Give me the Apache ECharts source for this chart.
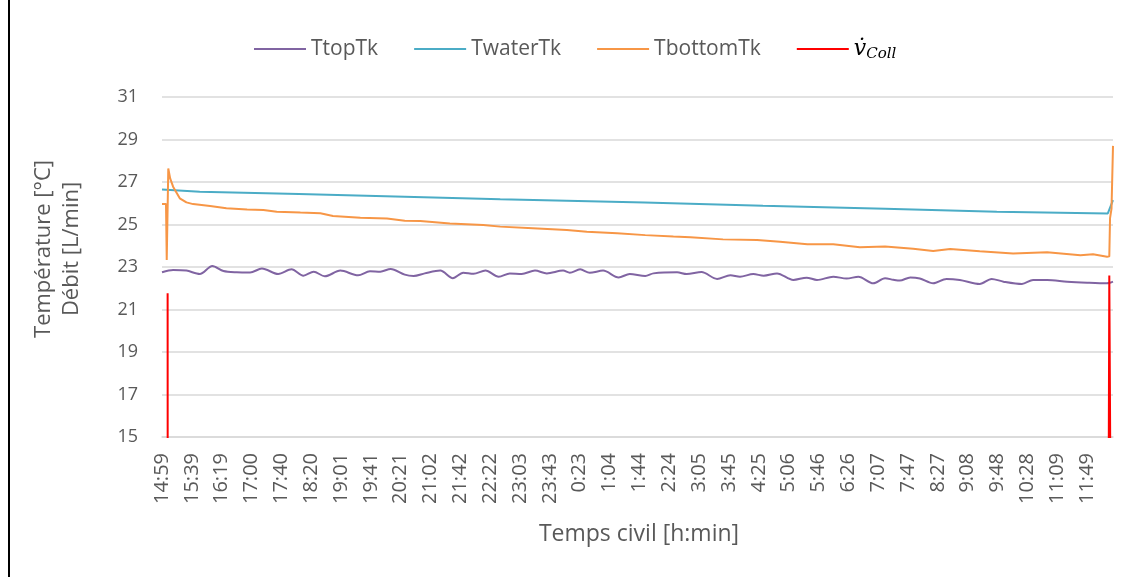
<!DOCTYPE html>
<html>
<head>
<meta charset="utf-8">
<title>Températures ballon</title>
<script src="https://cdn.jsdelivr.net/npm/echarts@6/dist/echarts.min.js"></script>
<style>
  html, body { margin: 0; padding: 0; background: #fff; }
  #echart { width: 1140px; height: 577px; }
</style>
</head>
<body>
<div id="echart"></div>
<script>
// étiquettes de l'axe des temps (une toutes les 1250/31 min depuis 14:59)
var xTicks = ['14:59', '15:39', '16:19', '17:00', '17:40', '18:20', '19:01', '19:41', '20:21', '21:02',
  '21:42', '22:22', '23:03', '23:43', '0:23', '1:04', '1:44', '2:24', '3:05', '3:45', '4:25', '5:06',
  '5:46', '6:26', '7:07', '7:47', '8:27', '9:08', '9:48', '10:28', '11:09', '11:49'];
var tickStep = 1250 / 31;   // minutes entre deux étiquettes
var xMax = 1285;            // fin de l'enregistrement (min)

// TtopTk : minutes depuis le début / valeurs
var ttopT = [0, 15, 33, 51, 68, 83, 101, 119, 135, 157, 175, 191, 205, 220, 241, 265, 281, 295, 309, 328,
  340, 355, 376, 393, 407, 421, 437, 455, 470, 486, 504, 520, 542, 551, 565, 578, 596, 617, 632, 653,
  664, 696, 709, 729, 750, 768, 781, 799, 813, 831, 853, 871, 885, 907, 925, 941, 961, 977, 988, 997,
  1011, 1024, 1042, 1060, 1078, 1105, 1121, 1137, 1162, 1177, 1196, 1223, 1250, 1277, 1281, 1285];
var ttopV = [22.75, 22.86, 22.83, 22.67, 23.05, 22.81, 22.75, 22.74, 22.93, 22.67, 22.89, 22.59, 22.78, 22.56, 22.83, 22.61, 22.80, 22.78, 22.91, 22.64,
  22.58, 22.70, 22.83, 22.47, 22.73, 22.68, 22.83, 22.54, 22.70, 22.67, 22.83, 22.70, 22.83, 22.73, 22.89, 22.73, 22.83, 22.51, 22.67, 22.58,
  22.70, 22.75, 22.67, 22.76, 22.44, 22.61, 22.54, 22.67, 22.59, 22.70, 22.39, 22.50, 22.39, 22.54, 22.46, 22.54, 22.23, 22.47, 22.40, 22.36,
  22.51, 22.46, 22.23, 22.44, 22.39, 22.20, 22.44, 22.31, 22.20, 22.39, 22.39, 22.31, 22.26, 22.23, 22.26, 22.31];

// TwaterTk
var twaterT = [0, 51, 185, 328, 457, 652, 812, 977, 1128, 1278, 1285];
var twaterV = [26.65, 26.54, 26.43, 26.31, 26.19, 26.03, 25.88, 25.74, 25.60, 25.52, 26.15];

// TbottomTk
var tbottomT = [0, 5.4, 6.4, 8.5, 11, 15, 24, 33, 42, 65, 87, 115, 137, 155, 187, 214, 231, 268, 304, 328, 349,
  389, 434, 457, 501, 547, 574, 615, 653, 691, 714, 758, 804, 835, 872, 907, 943, 977, 1015, 1042, 1065,
  1105, 1150, 1196, 1241, 1258, 1277, 1280, 1281, 1283, 1285];
var tbottomV = [25.96, 25.96, 23.33, 27.64, 27.17, 26.78, 26.23, 26.04, 25.96, 25.87, 25.76, 25.71, 25.68, 25.60, 25.56, 25.53, 25.40, 25.32, 25.28, 25.18, 25.16,
  25.05, 24.98, 24.90, 24.82, 24.74, 24.66, 24.59, 24.50, 24.43, 24.40, 24.30, 24.27, 24.19, 24.07, 24.07, 23.93, 23.96, 23.86, 23.75, 23.85,
  23.74, 23.64, 23.69, 23.55, 23.60, 23.48, 23.50, 25.30, 25.75, 28.70];

// débit capteurs (0 hors des deux pics)
var collT = [7.6, 7.8, 1278, 1280, 1283.5];
var collV = [21.76, 0, 0, 22.6, 0];

function pairs(t, v) {
  return t.map(function (x, i) { return [x, v[i]]; });
}

var textColor = '#595959';
var font = 'Open Sans';

var myChart = echarts.init(document.getElementById('echart'));

var option = {
  animation: false,
  backgroundColor: '#fff',
  legend: {
    left: 254,
    top: 38,
    padding: 0,
    icon: 'rect',
    itemWidth: 52,
    itemHeight: 2,
    itemGap: 36,
    data: ['TtopTk', 'TwaterTk', 'TbottomTk', 'vColl'],
    formatter: function (name) {
      return name === 'vColl' ? '{v|v\u0307}{s|Coll}' : name;
    },
    textStyle: {
      fontFamily: font,
      fontSize: 21,
      color: textColor,
      rich: {
        v: { fontFamily: 'DejaVu Serif', fontStyle: 'italic', fontSize: 22, color: '#000', lineHeight: 30, verticalAlign: 'middle' },
        s: { fontFamily: 'DejaVu Serif', fontStyle: 'italic', fontSize: 15, color: '#000', lineHeight: 30, verticalAlign: 'bottom', padding: [0, 0, 2, 0] }
      }
    }
  },
  grid: {
    left: 162,
    right: 27,
    top: 97,
    bottom: 140
  },
  xAxis: {
    type: 'value',
    min: 0,
    max: xMax,
    interval: tickStep,
    axisLine: { show: true, lineStyle: { color: '#d9d9d9', width: 1.5 } },
    axisTick: { show: false },
    splitLine: { show: false },
    axisLabel: {
      rotate: 90,
      margin: 16,
      fontFamily: font,
      fontSize: 20,
      color: textColor,
      showMaxLabel: false,
      formatter: function (v) {
        var i = Math.round(v / tickStep);
        return Math.abs(v / tickStep - i) < 0.01 && xTicks[i] ? xTicks[i] : '';
      }
    }
  },
  yAxis: {
    type: 'value',
    min: 15,
    max: 31,
    interval: 2,
    axisLine: { show: false },
    axisTick: { show: false },
    splitLine: { lineStyle: { color: '#d9d9d9', width: 1.5 } },
    axisLabel: {
      margin: 24,
      fontFamily: font,
      fontSize: 18,
      color: textColor
    }
  },
  graphic: [
    {
      type: 'text',
      x: 58,
      y: 249,
      rotation: Math.PI / 2,
      style: {
        text: 'Température [°C]\nDébit [L/min]',
        font: '22px "Open Sans"',
        fill: textColor,
        align: 'center',
        verticalAlign: 'middle',
        lineHeight: 28
      }
    },
    {
      type: 'text',
      x: 639,
      y: 534,
      style: {
        text: 'Temps civil [h:min]',
        font: '23px "Open Sans"',
        fill: textColor,
        align: 'center',
        verticalAlign: 'middle'
      }
    },
    {
      type: 'line',
      shape: { x1: 9, y1: 0, x2: 9, y2: 577 },
      style: { stroke: '#000', lineWidth: 2 }
    }
  ],
  series: [
    {
      name: 'TtopTk',
      type: 'line',
      data: pairs(ttopT, ttopV),
      showSymbol: false,
      smooth: 0.3,
      itemStyle: { color: '#8064a2' },
      lineStyle: { color: '#8064a2', width: 2 }
    },
    {
      name: 'TwaterTk',
      type: 'line',
      data: pairs(twaterT, twaterV),
      showSymbol: false,
      itemStyle: { color: '#4bacc6' },
      lineStyle: { color: '#4bacc6', width: 2 }
    },
    {
      name: 'TbottomTk',
      type: 'line',
      data: pairs(tbottomT, tbottomV),
      showSymbol: false,
      itemStyle: { color: '#f79646' },
      lineStyle: { color: '#f79646', width: 2 }
    },
    {
      name: 'vColl',
      type: 'line',
      data: pairs(collT, collV),
      showSymbol: false,
      itemStyle: { color: '#ff0000' },
      lineStyle: { color: '#ff0000', width: 2 }
    }
  ]
};

myChart.setOption(option);
</script>
</body>
</html>
